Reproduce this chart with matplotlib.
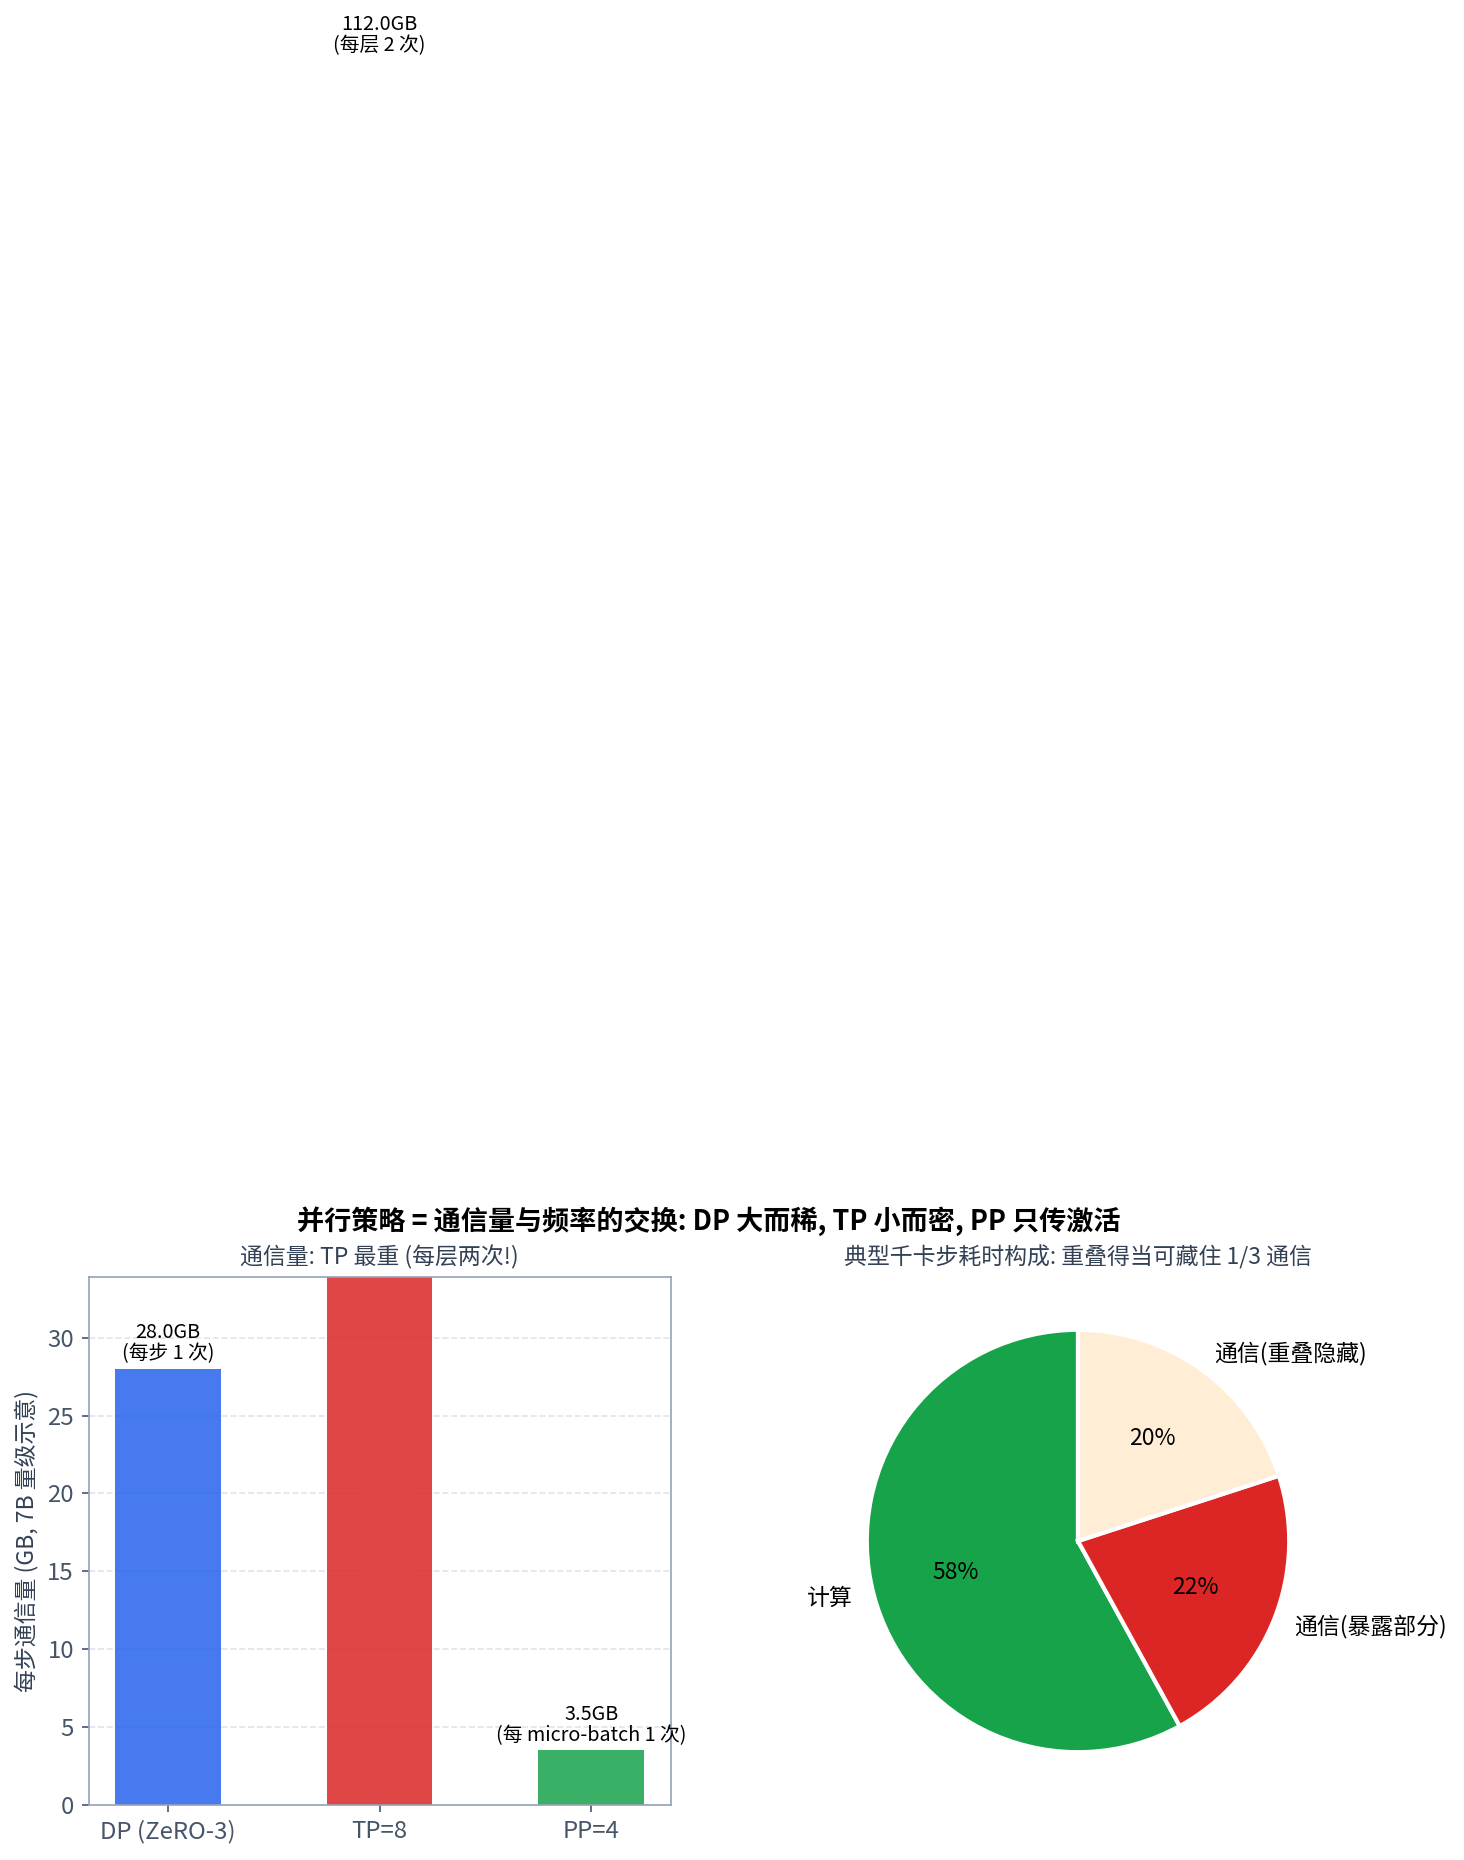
import matplotlib
matplotlib.use('Agg')
import matplotlib.pyplot as plt

plt.rcParams['font.family'] = ['Noto Sans CJK SC', 'DejaVu Sans']
plt.rcParams['axes.unicode_minus'] = False

# bar chart data
strategies = ['DP (ZeRO-3)', 'TP=8', 'PP=4']
comm_gb = [28.0, 112.0, 3.5]
freq_notes = ['每步 1 次', '每层 2 次', '每 micro-batch 1 次']
bar_colors = ['#2563eb', '#dc2626', '#16a34a']

# pie data
parts = ['计算', '通信(暴露部分)', '通信(重叠隐藏)']
shares = [58, 22, 20]
pie_colors = ['#16a34a', '#dc2626', '#ffedd5']

W, H = 1464, 1860
fig = plt.figure(figsize=(W / 150, H / 150), dpi=150)

# left: bars
ax1 = fig.add_axes([88.5 / W, 55 / H, 582 / W, 528 / H])
bars = ax1.bar(strategies, comm_gb, color=bar_colors, alpha=0.85, width=0.5)
for bar, v, note in zip(bars, comm_gb, freq_notes):
    ax1.text(bar.get_x() + bar.get_width() / 2, v + 0.3, f'{v:.1f}GB\n({note})',
             ha='center', va='bottom', fontsize=9.5, clip_on=False, linespacing=1.0)
ax1.set_ylim(0, 33.9)
ax1.set_ylabel('每步通信量 (GB, 7B 量级示意)', fontsize=11, color='#334155')
ax1.set_title('通信量: TP 最重 (每层两次!)', fontsize=11, color='#334155')
ax1.grid(axis='y', linestyle='--', color='#cbd5e1', alpha=0.6)
ax1.set_axisbelow(True)
ax1.tick_params(labelsize=11.5, colors='#475569')
for s in ax1.spines.values():
    s.set_color('#94a3b8')

# right: pie
ax2 = fig.add_axes([(1078 - 264) / W, 55 / H, 528 / W, 528 / H])
ax2.pie(shares, labels=parts, colors=pie_colors, autopct='%.0f%%', startangle=90,
        wedgeprops={'edgecolor': 'white', 'linewidth': 2},
        textprops={'fontsize': 11})
ax2.set_title('典型千卡步耗时构成: 重叠得当可藏住 1/3 通信', fontsize=11, color='#334155')

fig.text(709 / W, 1 - 1221 / H, '并行策略 = 通信量与频率的交换: DP 大而稀, TP 小而密, PP 只传激活',
         ha='center', va='center', fontsize=13, fontweight='bold')

fig.savefig('out.png', dpi=150)
